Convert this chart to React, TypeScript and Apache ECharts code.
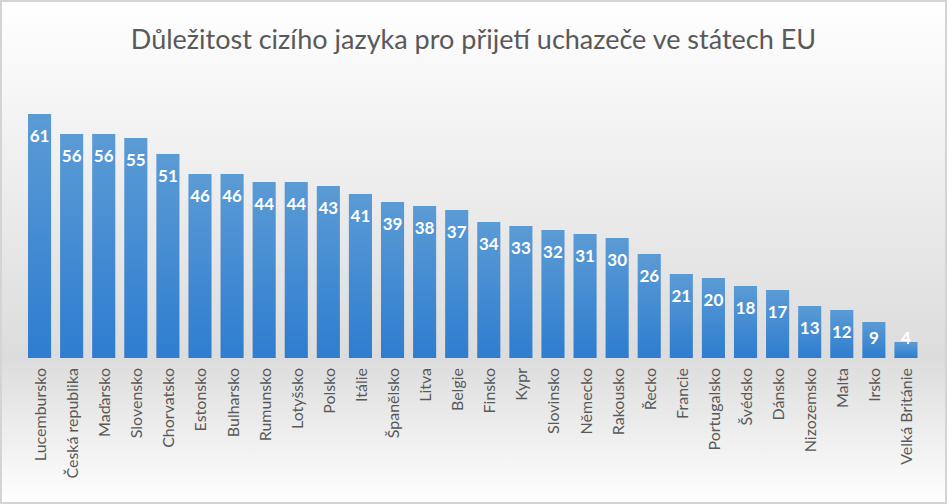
import React, { useEffect, useRef } from "react";
import * as echarts from "echarts";

const titleText = "Důležitost cizího jazyka pro přijetí uchazeče ve státech EU";

const countries = [
  "Lucembursko", "Česká republika", "Maďarsko", "Slovensko", "Chorvatsko",
  "Estonsko", "Bulharsko", "Rumunsko", "Lotyšsko", "Polsko", "Itálie",
  "Španělsko", "Litva", "Belgie", "Finsko", "Kypr", "Slovinsko", "Německo",
  "Rakousko", "Řecko", "Francie", "Portugalsko", "Švédsko", "Dánsko",
  "Nizozemsko", "Malta", "Irsko", "Velká Británie",
];

const values = [
  61, 56, 56, 55, 51, 46, 46, 44, 44, 43, 41, 39, 38, 37, 34, 33, 32, 31, 30,
  26, 21, 20, 18, 17, 13, 12, 9, 4,
];

const FONT = "Lato, 'Open Sans', sans-serif";

export default function App() {
  const ref = useRef<HTMLDivElement>(null);

  useEffect(() => {
    if (!ref.current) return;
    const chart = echarts.init(ref.current, undefined, { renderer: "svg" });

    const data = values.map((v) => {
      const small = v < 11;
      return {
        value: v,
        label: small
          ? { position: "insideBottom", distance: 12 }
          : { position: "insideTop", distance: 13 },
      };
    });

    chart.setOption({
      animation: false,
      backgroundColor: new echarts.graphic.LinearGradient(0, 0, 0, 1, [
        { offset: 0, color: "#ffffff" },
        { offset: 0.71, color: "#dcdcdc" },
        { offset: 1, color: "#ffffff" },
      ]),
      title: {
        text: titleText,
        left: "center",
        top: 20,
        textStyle: {
          fontFamily: FONT,
          fontSize: 27,
          fontWeight: "normal",
          color: "#595959",
        },
      },
      graphic: [
        {
          type: "rect",
          shape: { x: 1, y: 1, width: 945, height: 502 },
          style: { fill: "none", stroke: "#d4d4d4", lineWidth: 2 },
          silent: true,
          z: 100,
        },
      ],
      grid: { left: 23.5, right: 25, top: 78, bottom: 146 },
      xAxis: {
        type: "category",
        data: countries,
        axisLine: { show: false },
        axisTick: { show: false },
        axisLabel: {
          rotate: 90,
          interval: 0,
          margin: 10,
          fontFamily: FONT,
          fontSize: 16,
          color: "#595959",
        },
      },
      yAxis: {
        type: "value",
        min: 0,
        max: 70,
        show: false,
        splitLine: { show: false },
      },
      series: [
        {
          type: "bar",
          data,
          barCategoryGap: "28%",
          itemStyle: {
            color: new echarts.graphic.LinearGradient(0, 0, 0, 1, [
              { offset: 0, color: "#5b9bd5" },
              { offset: 1, color: "#2e7dcf" },
            ]),
          },
          label: {
            show: true,
            color: "#ffffff",
            fontFamily: FONT,
            fontWeight: "bold",
            fontSize: 17,
          },
        },
      ],
    });

    return () => chart.dispose();
  }, []);

  return (
    <div
      ref={ref}
      style={{ position: "fixed", left: 0, top: 0, width: 947, height: 504 }}
    />
  );
}
